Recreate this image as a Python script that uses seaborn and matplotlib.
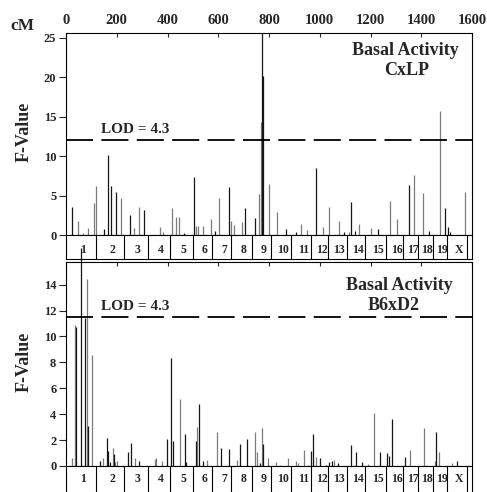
import numpy as np
import pandas as pd
import matplotlib
matplotlib.use("Agg")
import matplotlib.pyplot as plt
import seaborn as sns

sns.set_style("ticks")
plt.rcParams["font.family"] = ["Liberation Serif", "DejaVu Serif"]
plt.rcParams["font.weight"] = "bold"
plt.rcParams["axes.linewidth"] = 0.8

# ===========================
# DATA
# ===========================

# chromosome boundaries along the genome (cM)
chrom_bounds = [0, 120, 228, 323, 409, 500, 577, 652, 732, 809, 888,
                967, 1033, 1106, 1179, 1260, 1329, 1386, 1445, 1502, 1581, 1600]
chrom_names = ["1", "2", "3", "4", "5", "6", "7", "8", "9", "10",
               "11", "12", "13", "14", "15", "16", "17", "18", "19", "X"]
cm_ticks = [0, 200, 400, 600, 800, 1000, 1200, 1400, 1600]

# CxLP scan
cxlp_pos = [25, 46, 66, 85, 109, 117, 151, 167, 177, 197, 215, 253, 268, 289,
            308, 369, 384, 416, 432, 447, 466, 505, 514, 520, 539, 571, 588,
            601, 642, 650, 664, 692, 705, 746, 762, 767, 771, 778, 801, 833,
            867, 907, 928, 949, 984, 1011, 1037, 1075, 1096, 1115, 1122, 1138,
            1153, 1201, 1231, 1278, 1303, 1350, 1373, 1408, 1430, 1473, 1492,
            1505, 1512, 1571]
cxlp_f = [3.5, 1.8, 0.2, 0.85, 4.05, 6.2, 0.8, 10.2, 6.2, 5.5, 4.7, 2.5, 0.9,
          3.5, 3.2, 1.05, 0.4, 3.45, 2.3, 2.3, 0.3, 7.4, 1.1, 1.15, 1.15, 2.0,
          0.5, 4.7, 6.1, 1.8, 1.25, 1.65, 3.4, 2.1, 5.15, 14.3, 25.6, 20.2,
          6.5, 2.9, 0.75, 0.35, 1.35, 0.6, 8.5, 1.05, 3.5, 1.75, 0.35, 0.35,
          4.15, 0.55, 1.4, 0.9, 0.8, 4.35, 2.05, 6.4, 7.6, 5.35, 0.45, 15.7,
          3.4, 1.0, 0.35, 5.45]
cxlp_shade = list("kgggggkkkk" "gkggkggggg" "kkggggkgkg" "ggkkggkkgg"
                  "kkggkgggkg" "kkggkggkgg" "kgkkkg")

# B6xD2 scan
b6d2_pos = [25, 34, 38, 60, 76, 82, 86, 101, 133, 147, 163, 167, 173, 184,
            188, 195, 201, 245, 258, 272, 289, 352, 356, 380, 399, 412, 423,
            451, 470, 474, 512, 516, 525, 538, 556, 597, 612, 644, 672, 686,
            714, 744, 751, 764, 773, 777, 797, 827, 843, 873, 908, 913, 938,
            954, 967, 975, 984, 1001, 1026, 1038, 1050, 1056, 1072, 1123,
            1142, 1166, 1192, 1213, 1238, 1265, 1272, 1285, 1335, 1357, 1409,
            1455, 1460, 1471, 1523, 1541]
b6d2_f = [0.65, 10.9, 10.7, 16.8, 11.45, 14.4, 3.05, 8.55, 0.4, 0.6, 2.15,
          1.15, 0.3, 1.4, 0.9, 0.3, 0.4, 1.1, 1.8, 0.65, 0.4, 0.55, 0.6, 0.4,
          2.05, 8.3, 1.95, 5.15, 2.45, 0.3, 1.9, 3.0, 4.8, 0.4, 0.45, 2.6,
          1.4, 1.3, 0.45, 1.7, 2.1, 2.6, 1.1, 0.2, 2.9, 1.7, 0.65, 0.3, 0.1,
          0.6, 0.4, 0.25, 1.25, 0.1, 1.15, 2.5, 0.7, 0.65, 0.1, 0.3, 0.4,
          0.45, 0.25, 1.6, 1.1, 0.3, 0.15, 4.1, 1.1, 1.0, 0.8, 3.65, 0.7,
          1.25, 2.9, 0.4, 2.65, 1.05, 0.25, 0.4]
b6d2_shade = list("ggkkkgkgkg" "kkkgkggkkg" "kgggkkkgkk" "kgkkggkkgk"
                  "kggkgkgggg" "ggggkkgkkk" "kgkkkkggkk" "kkkgggkggk")

SHADES = {"k": "#151515", "g": "#7d7d7d"}

# ===========================
# FIGURE LAYOUT (pixel boxes)
# ===========================

W, H = 487, 492
fig = plt.figure(figsize=(W / 100, H / 100), dpi=100)


def box(x0, y0, x1, y1):
    return [x0 / W, 1 - y1 / H, (x1 - x0) / W, (y1 - y0) / H]


ax_top = fig.add_axes(box(66, 33, 472, 235))
strip_top = fig.add_axes(box(66, 235, 472, 259))
ax_bot = fig.add_axes(box(66, 262, 472, 466))
strip_bot = fig.add_axes(box(66, 466, 472, 494))


def draw_scan(ax, pos, vals, shade, thr, ymax, yticks, lod_y, title,
              title_x, labeltop):
    df = pd.DataFrame({"cM": pos, "F": vals, "shade": shade})
    for s, grp in df.groupby("shade"):
        ax.vlines(grp["cM"], 0, grp["F"], colors=SHADES[s], lw=0.9,
                  clip_on=False, zorder=2)
    ax.axhline(thr, color="black", lw=1.3, linestyle=(0, (15, 4.6)), zorder=3)
    ax.text(272, lod_y, "LOD = 4.3", fontsize=11, ha="center", va="center")
    ax.text(title_x[0], title[2], title[0], transform=ax.transAxes,
            fontsize=13, ha="center", va="center")
    ax.text(title_x[1], title[3], title[1], transform=ax.transAxes,
            fontsize=13, ha="center", va="center")
    ax.set_xlim(0, 1600)
    ax.set_ylim(0, ymax)
    ax.set_yticks(yticks)
    ax.set_xticks(cm_ticks)
    ax.tick_params(axis="y", direction="out", length=5, width=0.8,
                   labelsize=9, pad=2)
    ax.tick_params(axis="x", bottom=False, top=True, labelbottom=False,
                   labeltop=labeltop, direction="in", length=3, width=0.8,
                   labelsize=10.5, pad=4)
    for sp in ax.spines.values():
        sp.set_visible(True)
        sp.set_color("black")


def draw_strip(ax, label_y):
    ax.set_xlim(0, 1600)
    ax.set_ylim(0, 1)
    ax.vlines(chrom_bounds[1:-1], 0, 1, colors="black", lw=0.8)
    mids = [(a + b) / 2 + 8 for a, b in zip(chrom_bounds[:-2], chrom_bounds[1:-1])]
    for m, name in zip(mids, chrom_names):
        ax.text(m, label_y, name, fontsize=8.5, ha="center", va="center")
    ax.set_xticks([])
    ax.set_yticks([])
    for sp in ax.spines.values():
        sp.set_visible(True)
        sp.set_color("black")
        sp.set_linewidth(0.8)


# ===========================
# PANELS
# ===========================

draw_scan(ax_top, cxlp_pos, cxlp_f, cxlp_shade, 12.0, 25.6,
          [0, 5, 10, 15, 20, 25], 13.4,
          ("Basal Activity", "CxLP", 0.911, 0.812), (0.837, 0.84), True)
draw_strip(strip_top, 0.38)

draw_scan(ax_bot, b6d2_pos, b6d2_f, b6d2_shade, 11.5, 15.75,
          [0, 2, 4, 6, 8, 10, 12, 14], 12.35,
          ("Basal Activity", "B6xD2", 0.887, 0.787), (0.82, 0.808), False)
draw_strip(strip_bot, 0.52)

fig.text(24 / W, 1 - 131.5 / H, "F-Value", rotation=90, fontsize=13,
         ha="center", va="center")
fig.text(24 / W, 1 - 362 / H, "F-Value", rotation=90, fontsize=13,
         ha="center", va="center")
fig.text(22.5 / W, 1 - 26 / H, "cM", fontsize=12.5, ha="center", va="center")

fig.savefig("out.png", dpi=100)
